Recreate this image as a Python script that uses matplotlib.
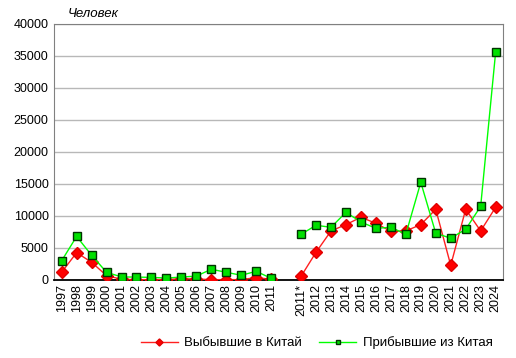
import numpy as np
import matplotlib.pyplot as plt

plt.rcParams["font.family"] = ["Liberation Sans", "DejaVu Sans"]

# Category labels (empty slot separates the two series of years)
years = ["1997", "1998", "1999", "2000", "2001", "2002", "2003", "2004", "2005",
         "2006", "2007", "2008", "2009", "2010", "2011", "",
         "2011*", "2012", "2013", "2014", "2015", "2016", "2017", "2018",
         "2019", "2020", "2021", "2022", "2023", "2024"]

# Departed to China
departed = [1200, 4270, 2760, 680, 100, 50, 50, 50, 200, 150, 50, 50, 50, 370, 100, np.nan,
            580, 4330, 7660, 8650, 9800, 8850, 7600, 7660, 8650, 11040, 2290, 11040, 7660, 11350]

# Arrived from China
arrived = [3000, 6800, 3860, 1200, 470, 450, 400, 300, 450, 600, 1670, 1200, 730, 1350, 260, np.nan,
           7140, 8540, 8230, 10570, 9060, 8070, 8230, 7140, 15260, 7300, 6520, 7920, 11500, 35570]

fig = plt.figure(figsize=(5.16, 3.58), dpi=100)
ax = fig.add_axes([0.105, 0.218, 0.870, 0.715])

x = np.arange(len(years))
ax.plot(x, departed, color="#FF2020", lw=1.0, marker="D", ms=6,
        mfc="#FF0000", mec="#E00000", label="Выбывшие в Китай", zorder=3)
ax.plot(x, arrived, color="#00FF00", lw=1.0, marker="s", ms=6,
        mfc="#00E000", mec="#003300", mew=1.0, label="Прибывшие из Китая", zorder=4)

ax.set_xlim(-0.5, len(years) - 0.5)
ax.set_ylim(0, 40000)
ax.set_yticks(np.arange(0, 40001, 5000))
ax.set_xticks(x)
ax.set_xticklabels(years, rotation=90, fontsize=9)
ax.tick_params(axis="y", labelsize=9, length=0, pad=4)
ax.tick_params(axis="x", length=0, pad=3)
ax.yaxis.grid(True, color="#B8B8B8", lw=1.0)
ax.set_axisbelow(True)

for side in ["top", "right", "left"]:
    ax.spines[side].set_color("#808080")
ax.spines["bottom"].set_color("black")
ax.spines["bottom"].set_linewidth(1.3)

fig.text(0.132, 0.962, "Человек", fontsize=9.5, style="italic", ha="left", va="center")

fig.legend(loc="center", bbox_to_anchor=(0.614, 0.042), ncol=2, frameon=False,
           fontsize=9.5, handlelength=2.8, handletextpad=0.5, columnspacing=1.3,
           markerscale=0.6)

fig.savefig("out.png", dpi=100)
